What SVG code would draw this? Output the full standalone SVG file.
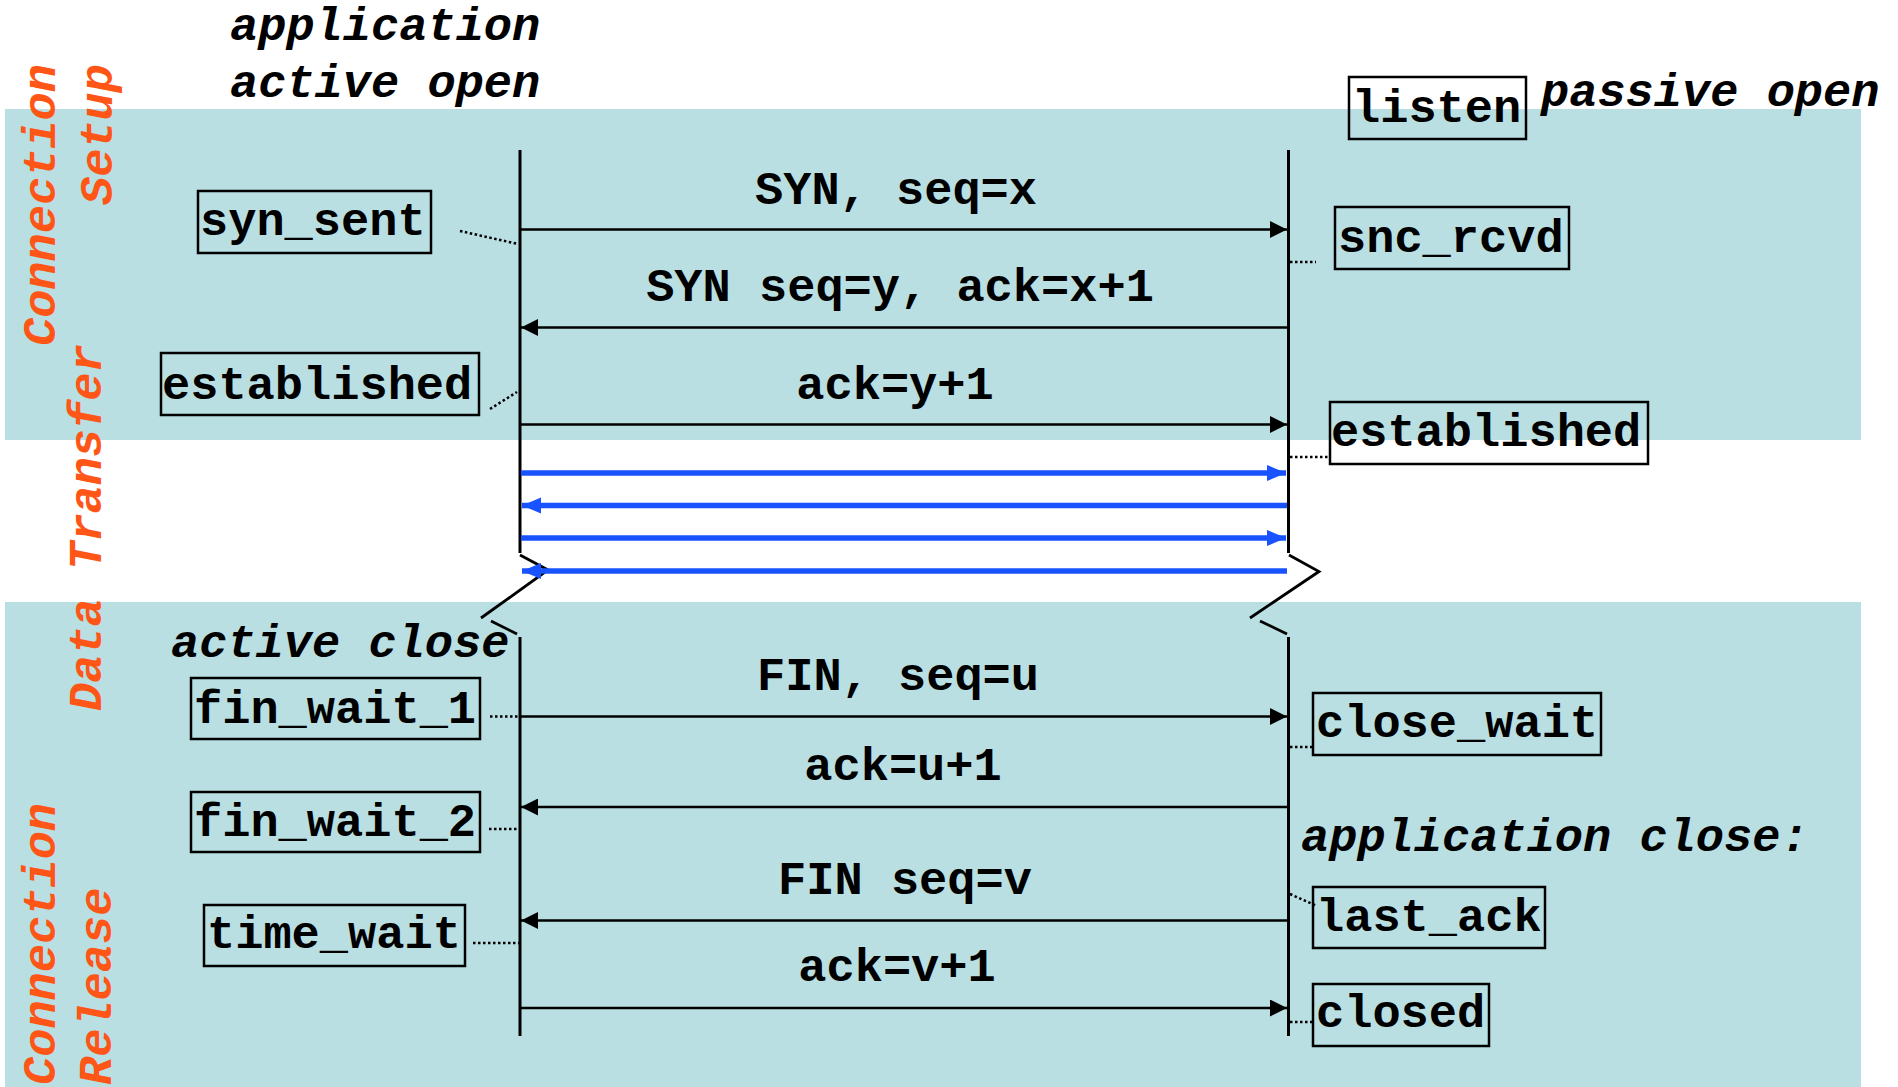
<svg xmlns="http://www.w3.org/2000/svg" width="1898" height="1087" viewBox="0 0 1898 1087">
<style>
.t{font-family:"Liberation Mono","Courier New",monospace;font-weight:bold;font-size:47px;fill:#000}
.i{font-style:italic}
.o{font-family:"Liberation Mono","Courier New",monospace;font-weight:bold;font-style:italic;font-size:47px;fill:#ff5516}
.box{fill:none;stroke:#000;stroke-width:2.5}
.life{stroke:#000;stroke-width:3;fill:none}
.msg{stroke:#000;stroke-width:2.7;fill:none}
.data{stroke:#1953ff;stroke-width:5.5;fill:none}
.dot{stroke:#000;stroke-width:2.5;stroke-dasharray:2.5 2.5;fill:none}
.brk{stroke:#000;stroke-width:2.8;fill:none}
</style>
<defs>
<marker id="ah" markerUnits="userSpaceOnUse" markerWidth="17" markerHeight="17" refX="17" refY="8.5" orient="auto"><path d="M0,0 L17,8.5 L0,17 z" fill="#000"/></marker>
<marker id="bh" markerUnits="userSpaceOnUse" markerWidth="20" markerHeight="18" refX="19" refY="9" orient="auto"><path d="M0,1 L19,9 L0,17 z" fill="#1953ff"/></marker>
</defs>
<g id="bands">
<rect x="5" y="109" width="1856" height="331" fill="#b9dfe3"/>
<rect x="5" y="602" width="1856" height="485" fill="#b9dfe3"/>
</g>
<g id="phase-labels">
<text class="o" text-anchor="end" transform="translate(55,64) rotate(-90)">Connection</text>
<text class="o" text-anchor="end" transform="translate(112,64) rotate(-90)">Setup</text>
<text class="o" transform="translate(101,711) rotate(-90)">Data Transfer</text>
<text class="o" transform="translate(55,1085) rotate(-90)">Connection</text>
<text class="o" transform="translate(111,1085) rotate(-90)">Release</text>
</g>
<g id="annotations">
<text class="t i" x="230" y="40">application</text>
<text class="t i" x="230" y="97">active open</text>
<text class="t i" x="1541" y="106">passive open</text>
<text class="t i" x="171" y="657">active close</text>
<text class="t i" x="1301" y="851">application close:</text>
</g>
<g id="lifelines">
<line class="life" x1="520" y1="150" x2="520" y2="553"/>
<line class="life" x1="520" y1="637" x2="520" y2="1036"/>
<line class="life" x1="1288.5" y1="150" x2="1288.5" y2="553"/>
<line class="life" x1="1288.5" y1="637" x2="1288.5" y2="1036"/>
<polyline class="brk" points="520,555 548,570 481,618"/>
<line class="brk" x1="491" y1="621" x2="517" y2="634"/>
<polyline class="brk" points="1289,555 1319,571.5 1250,618"/>
<line class="brk" x1="1260" y1="621" x2="1287" y2="634"/>
</g>
<g id="connectors">
<line class="msg" x1="520" y1="229.5" x2="1287" y2="229.5" marker-end="url(#ah)"/>
<line class="msg" x1="1288" y1="327.5" x2="521" y2="327.5" marker-end="url(#ah)"/>
<line class="msg" x1="520" y1="424.5" x2="1287" y2="424.5" marker-end="url(#ah)"/>
<line class="data" x1="521" y1="473" x2="1286" y2="473" marker-end="url(#bh)"/>
<line class="data" x1="1287" y1="505.5" x2="522" y2="505.5" marker-end="url(#bh)"/>
<line class="data" x1="521" y1="538" x2="1286" y2="538" marker-end="url(#bh)"/>
<line class="data" x1="1287" y1="571" x2="522" y2="571" marker-end="url(#bh)"/>
<line class="msg" x1="520" y1="716.5" x2="1287" y2="716.5" marker-end="url(#ah)"/>
<line class="msg" x1="1288" y1="807" x2="521" y2="807" marker-end="url(#ah)"/>
<line class="msg" x1="1288" y1="920.5" x2="521" y2="920.5" marker-end="url(#ah)"/>
<line class="msg" x1="520" y1="1008" x2="1287" y2="1008" marker-end="url(#ah)"/>
<text class="t" text-anchor="middle" x="896" y="203.5">SYN, seq=x</text>
<text class="t" text-anchor="middle" x="900" y="300.5">SYN seq=y, ack=x+1</text>
<text class="t" text-anchor="middle" x="895" y="398.5">ack=y+1</text>
<text class="t" text-anchor="middle" x="898" y="689.5">FIN, seq=u</text>
<text class="t" text-anchor="middle" x="903" y="779.5">ack=u+1</text>
<text class="t" text-anchor="middle" x="905" y="893.5">FIN seq=v</text>
<text class="t" text-anchor="middle" x="897" y="980.5">ack=v+1</text>
<line class="dot" x1="460" y1="231" x2="518" y2="244"/>
<line class="dot" x1="490" y1="409" x2="517" y2="392"/>
<line class="dot" x1="1290" y1="262" x2="1316" y2="262"/>
<line class="dot" x1="1290" y1="457" x2="1331" y2="457"/>
<line class="dot" x1="490" y1="716.5" x2="519" y2="716.5"/>
<line class="dot" x1="489" y1="829" x2="519" y2="829"/>
<line class="dot" x1="473" y1="943" x2="519" y2="943"/>
<line class="dot" x1="1290" y1="747" x2="1313" y2="747"/>
<line class="dot" x1="1290" y1="894" x2="1317" y2="906"/>
<line class="dot" x1="1290" y1="1022" x2="1313" y2="1022"/>
</g>
<g id="syn_sent"><rect class="box" x="198" y="191" width="233" height="62"/><text class="t" x="200" y="234.5">syn_sent</text></g>
<g id="established_client"><rect class="box" x="161" y="353" width="318" height="62"/><text class="t" x="162" y="398.5">established</text></g>
<g id="listen"><rect class="box" x="1349" y="77" width="177" height="62"/><text class="t" x="1352" y="121.5">listen</text></g>
<g id="snc_rcvd"><rect class="box" x="1335" y="207" width="234" height="62"/><text class="t" x="1338" y="251.5">snc_rcvd</text></g>
<g id="established_server"><rect class="box" x="1330" y="402" width="318" height="62"/><text class="t" x="1331" y="445.5">established</text></g>
<g id="fin_wait_1"><rect class="box" x="191" y="678" width="289" height="61"/><text class="t" x="194" y="722.5">fin_wait_1</text></g>
<g id="fin_wait_2"><rect class="box" x="191" y="792" width="289" height="60"/><text class="t" x="194" y="835.5">fin_wait_2</text></g>
<g id="time_wait"><rect class="box" x="204" y="905" width="261" height="61"/><text class="t" x="207" y="947.5">time_wait</text></g>
<g id="close_wait"><rect class="box" x="1313" y="693" width="288" height="62"/><text class="t" x="1316" y="736.5">close_wait</text></g>
<g id="last_ack"><rect class="box" x="1313" y="887" width="232" height="61"/><text class="t" x="1316" y="930.5">last_ack</text></g>
<g id="closed"><rect class="box" x="1313" y="984" width="176" height="62"/><text class="t" x="1316" y="1026.5">closed</text></g>
</svg>
